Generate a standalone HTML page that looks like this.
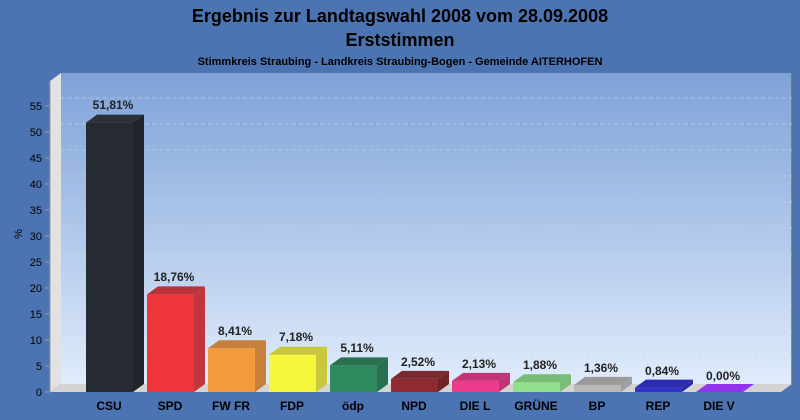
<!DOCTYPE html>
<html><head><meta charset="utf-8"><style>
html,body{margin:0;padding:0;background:#4d74b2;}
svg{display:block;font-family:"Liberation Sans",Arial,sans-serif;}
</style></head><body>
<svg width="800" height="420" viewBox="0 0 800 420" xmlns="http://www.w3.org/2000/svg">
<defs>
<linearGradient id="bg" x1="0" y1="0" x2="0" y2="1"><stop offset="0" stop-color="#7ea2d8"/><stop offset="1" stop-color="#e0ecfc"/></linearGradient>
</defs>
<rect width="800" height="420" fill="#4d74b2"/>
<text x="400" y="22" text-anchor="middle" font-size="18" font-weight="bold" fill="#000">Ergebnis zur Landtagswahl 2008 vom 28.09.2008</text>
<text x="400" y="46" text-anchor="middle" font-size="18" font-weight="bold" fill="#000">Erststimmen</text>
<text x="400" y="65" text-anchor="middle" font-size="11" font-weight="bold" fill="#000">Stimmkreis Straubing - Landkreis Straubing-Bogen - Gemeinde AITERHOFEN</text>
<rect x="61" y="73" width="731" height="311" fill="url(#bg)"/>
<line x1="792" y1="73" x2="792" y2="384" stroke="#5a6f90" stroke-width="1.5"/>
<polygon points="50,81 61,73 61,384 50,392" fill="#e2e2e2"/>
<polygon points="50,392 61,384 792,384 781,392" fill="#d4d4d4"/>
<g stroke="#c8d4e8" stroke-opacity="0.6" stroke-dasharray="4,3" stroke-width="1">
<line x1="61" x2="792" y1="358" y2="358"/><line x1="61" x2="792" y1="332" y2="332"/><line x1="61" x2="792" y1="306" y2="306"/><line x1="61" x2="792" y1="280" y2="280"/><line x1="61" x2="792" y1="254" y2="254"/><line x1="61" x2="792" y1="228" y2="228"/><line x1="61" x2="792" y1="202" y2="202"/><line x1="61" x2="792" y1="176" y2="176"/><line x1="61" x2="792" y1="150" y2="150"/><line x1="61" x2="792" y1="124" y2="124"/><line x1="61" x2="792" y1="98" y2="98"/>
</g>
<g stroke="#999" stroke-width="1">
<line x1="45" x2="50" y1="392" y2="392"/><line x1="45" x2="50" y1="366" y2="366"/><line x1="45" x2="50" y1="340" y2="340"/><line x1="45" x2="50" y1="314" y2="314"/><line x1="45" x2="50" y1="288" y2="288"/><line x1="45" x2="50" y1="262" y2="262"/><line x1="45" x2="50" y1="236" y2="236"/><line x1="45" x2="50" y1="210" y2="210"/><line x1="45" x2="50" y1="184" y2="184"/><line x1="45" x2="50" y1="158" y2="158"/><line x1="45" x2="50" y1="132" y2="132"/><line x1="45" x2="50" y1="106" y2="106"/>
<line x1="50" y1="81" x2="50" y2="392"/>
</g>
<g font-size="11" fill="#000" text-anchor="end">
<text x="42" y="396">0</text><text x="42" y="370">5</text><text x="42" y="344">10</text><text x="42" y="318">15</text><text x="42" y="292">20</text><text x="42" y="266">25</text><text x="42" y="240">30</text><text x="42" y="214">35</text><text x="42" y="188">40</text><text x="42" y="162">45</text><text x="42" y="136">50</text><text x="42" y="110">55</text>
</g>
<text x="22" y="234" font-size="11" text-anchor="middle" transform="rotate(-90 22 234)">%</text>

<g>
<rect x="86" y="122.6" width="47" height="269.4" fill="#262a33"/><polygon points="86,122.6 97,114.6 144,114.6 133,122.6" fill="#2c313b"/><polygon points="133,122.6 144,114.6 144,384 133,392" fill="#1f232a"/>
<rect x="147" y="294.4" width="47" height="97.6" fill="#ef343a"/><polygon points="147,294.4 158,286.4 205,286.4 194,294.4" fill="#b8333a"/><polygon points="194,294.4 205,286.4 205,384 194,392" fill="#c0363c"/>
<rect x="208" y="348.3" width="47" height="43.7" fill="#f59a3c"/><polygon points="208,348.3 219,340.3 266,340.3 255,348.3" fill="#c4803c"/><polygon points="255,348.3 266,340.3 266,384 255,392" fill="#c87f3a"/>
<rect x="269" y="354.7" width="47" height="37.3" fill="#f6f63c"/><polygon points="269,354.7 280,346.7 327,346.7 316,354.7" fill="#c8c83a"/><polygon points="316,354.7 327,346.7 327,384 316,392" fill="#c8c83a"/>
<rect x="330" y="365.4" width="47" height="26.6" fill="#2f8b5f"/><polygon points="330,365.4 341,357.4 388,357.4 377,365.4" fill="#2a7050"/><polygon points="377,365.4 388,357.4 388,384 377,392" fill="#287050"/>
<rect x="391" y="378.9" width="47" height="13.1" fill="#8e2a30"/><polygon points="391,378.9 402,370.9 449,370.9 438,378.9" fill="#7a2a2e"/><polygon points="438,378.9 449,370.9 449,384 438,392" fill="#702428"/>
<rect x="452" y="380.9" width="47" height="11.1" fill="#ee3a8c"/><polygon points="452,380.9 463,372.9 510,372.9 499,380.9" fill="#c03576"/><polygon points="499,380.9 510,372.9 510,384 499,392" fill="#c03576"/>
<rect x="513" y="382.2" width="47" height="9.8" fill="#90e08c"/><polygon points="513,382.2 524,374.2 571,374.2 560,382.2" fill="#78bc76"/><polygon points="560,382.2 571,374.2 571,384 560,392" fill="#78bc76"/>
<rect x="574" y="384.9" width="47" height="7.1" fill="#b8b8b8"/><polygon points="574,384.9 585,376.9 632,376.9 621,384.9" fill="#9a9a9a"/><polygon points="621,384.9 632,376.9 632,384 621,392" fill="#a0a0a0"/>
<rect x="635" y="387.6" width="47" height="4.4" fill="#3434cc"/><polygon points="635,387.6 646,379.6 693,379.6 682,387.6" fill="#2c2cb0"/><polygon points="682,387.6 693,379.6 693,384 682,392" fill="#2a2aa8"/>
<polygon points="696,392 707,384 754,384 743,392" fill="#9433ee"/>
</g>
<g font-size="12" font-weight="bold" fill="#222" text-anchor="middle">
<text x="113" y="109">51,81%</text>
<text x="174" y="281">18,76%</text>
<text x="235" y="335">8,41%</text>
<text x="296" y="341">7,18%</text>
<text x="357" y="352">5,11%</text>
<text x="418" y="366">2,52%</text>
<text x="479" y="368">2,13%</text>
<text x="540" y="369">1,88%</text>
<text x="601" y="372">1,36%</text>
<text x="662" y="375">0,84%</text>
<text x="723" y="380">0,00%</text>
</g>
<g font-size="12" font-weight="bold" fill="#000" text-anchor="middle">
<text x="109" y="410">CSU</text><text x="170" y="410">SPD</text><text x="231" y="410">FW FR</text><text x="292" y="410">FDP</text><text x="353" y="410">ödp</text><text x="414" y="410">NPD</text><text x="475" y="410">DIE L</text><text x="536" y="410">GRÜNE</text><text x="597" y="410">BP</text><text x="658" y="410">REP</text><text x="719" y="410">DIE V</text>
</g>
</svg>
</body></html>
